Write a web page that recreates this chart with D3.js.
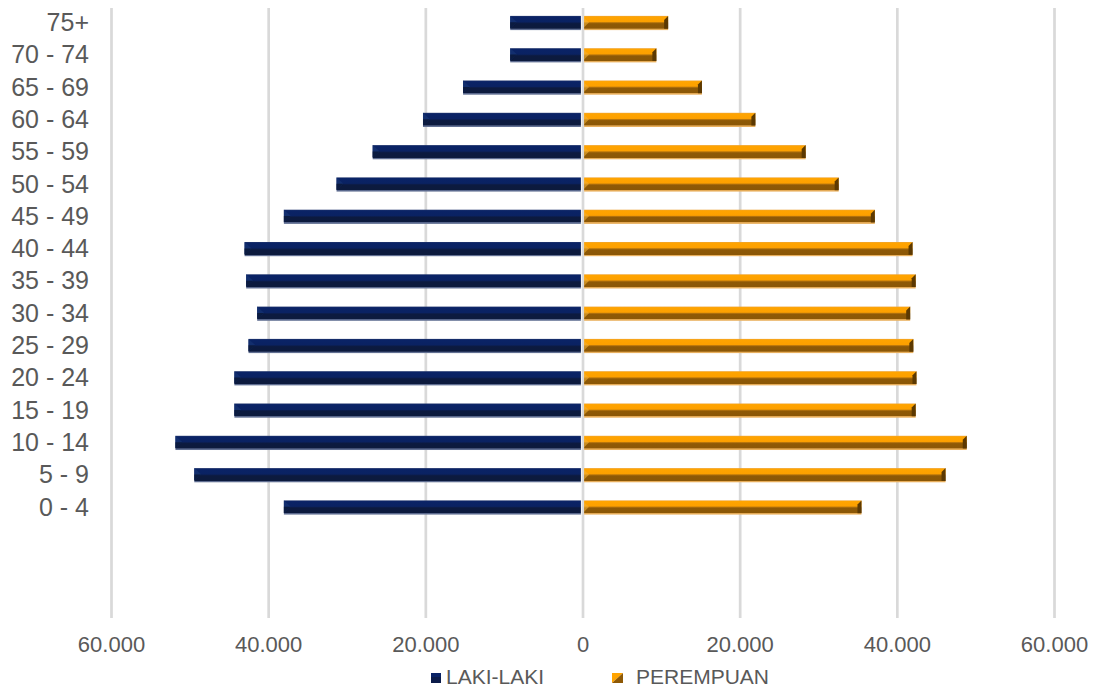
<!DOCTYPE html>
<html>
<head>
<meta charset="utf-8">
<script src="https://cdn.jsdelivr.net/npm/d3@7/dist/d3.min.js"></script>
<style>
  html, body { margin: 0; padding: 0; background: #ffffff; }
  svg { display: block; font-family: "Liberation Sans", Arial, sans-serif; }
</style>
</head>
<body>
<svg id="chart" width="1099" height="697"></svg>
<script>
// ---- data ----
const categories = ["75+","70 - 74","65 - 69","60 - 64","55 - 59","50 - 54","45 - 49","40 - 44",
                    "35 - 39","30 - 34","25 - 29","20 - 24","15 - 19","10 - 14","5 - 9","0 - 4"];
const lakiLaki   = [9200, 9200, 15200, 20300, 26700, 31300, 38000, 43000,
                    42800, 41400, 42500, 44300, 44300, 51800, 49400, 38000];
const perempuan  = [10900, 9400, 15200, 22000, 28400, 32600, 37200, 42000,
                    42400, 41700, 42100, 42500, 42400, 48900, 46200, 35500];
const xTicks     = [-60000, -40000, -20000, 0, 20000, 40000, 60000];
const seriesNames = ["LAKI-LAKI", "PEREMPUAN"];

// ---- setup ----
const svg = d3.select("#chart");
const W = 1099, H = 697;
svg.append("rect").attr("width", W).attr("height", H).attr("fill", "#ffffff");

const plotTop = 8, plotBottom = 618;
const x = d3.scaleLinear().domain([-60000, 60000]).range([111, 1054]);
const step = 32.3;
const y = d3.scaleBand().domain(categories)
  .range([23 - step / 2, 23 - step / 2 + step * categories.length])
  .paddingInner(0.56).paddingOuter(0.28);

const defs = svg.append("defs");
function grad(id, stops) {
  const g = defs.append("linearGradient").attr("id", id)
    .attr("x1", 0).attr("y1", 0).attr("x2", 0).attr("y2", 1);
  stops.forEach(s => g.append("stop").attr("offset", s[0]).attr("stop-color", s[1]));
}
grad("gNavy", [[0, "#24386e"], [0.08, "#0a2366"], [0.42, "#0a2262"], [0.5, "#0c1c48"],
               [0.55, "#0c1a3f"], [0.88, "#0c1a3d"], [0.9, "#56648a"], [1, "#6a7898"]]);
grad("gOrange", [[0, "#eda53a"], [0.08, "#ffa400"], [0.4, "#fda000"], [0.48, "#b0700c"],
                 [0.55, "#8e5906"], [0.88, "#8b5706"], [0.9, "#e2a752"], [1, "#ebb566"]]);

// ---- gridlines ----
const grid = svg.append("g").attr("transform", `translate(0,${plotBottom})`)
  .call(d3.axisBottom(x).tickValues(xTicks).tickSize(-(plotBottom - plotTop)).tickFormat(""));
grid.select(".domain").remove();
grid.selectAll("line").attr("stroke", "#d9d9d9").attr("stroke-width", 2.7);

// ---- bars ----
const gap = 1.6;
const bw = y.bandwidth();

const data = categories.map((c, i) => ({ cat: c, m: lakiLaki[i], f: perempuan[i] }));

// LAKI-LAKI (left)
const gm = svg.append("g");
data.forEach(d => {
  const x0 = x(-d.m), x1 = x(0) - gap, y0 = y(d.cat);
  gm.append("rect").attr("x", x0).attr("y", y0).attr("width", x1 - x0).attr("height", bw)
    .attr("fill", "url(#gNavy)");
  // bevel at outer (left) end
  gm.append("polygon")
    .attr("points", `${x0},${y0} ${x0 + 7},${y0 + bw * 0.45} ${x0},${y0 + bw * 0.88}`)
    .attr("fill", "#13306f").attr("opacity", 0.9);
  gm.append("polygon")
    .attr("points", `${x0},${y0 + bw * 0.45} ${x0 + 7},${y0 + bw * 0.45} ${x0},${y0 + bw * 0.88}`)
    .attr("fill", "#0a1736").attr("opacity", 0.8);
});

// PEREMPUAN (right)
const gf = svg.append("g");
data.forEach(d => {
  const x0 = x(0) + gap, x1 = x(d.f), y0 = y(d.cat);
  gf.append("rect").attr("x", x0).attr("y", y0).attr("width", x1 - x0).attr("height", bw)
    .attr("fill", "url(#gOrange)");
  // dark bevel at outer (right) end
  gf.append("polygon")
    .attr("points", `${x1 - 4},${y0 + 4} ${x1},${y0} ${x1},${y0 + bw * 0.9} ${x1 - 4},${y0 + bw * 0.9}`)
    .attr("fill", "#5c3902");
  // light bevel at inner end
  gf.append("polygon")
    .attr("points", `${x0},${y0 + 2} ${x0 + 5},${y0 + bw * 0.45} ${x0},${y0 + bw * 0.8}`)
    .attr("fill", "#f3b136").attr("opacity", 0.6);
});

// ---- axes labels ----
const loc = d3.formatLocale({ decimal: ",", thousands: ".", grouping: [3], currency: ["", ""] });
const fmt = loc.format(",");
const xAxis = svg.append("g").attr("transform", `translate(0,${plotBottom})`)
  .call(d3.axisBottom(x).tickValues(xTicks).tickSize(0).tickPadding(18.5)
    .tickFormat(d => fmt(Math.abs(d))));
xAxis.select(".domain").remove();
xAxis.selectAll("text").attr("font-size", 22).attr("fill", "#595959")
  .attr("font-family", "'Liberation Sans', Arial, sans-serif");

const yAxis = svg.append("g").attr("transform", "translate(89,0)")
  .call(d3.axisLeft(y).tickSize(0).tickPadding(0));
yAxis.select(".domain").remove();
yAxis.selectAll("text").attr("font-size", 25).attr("fill", "#595959")
  .attr("font-family", "'Liberation Sans', Arial, sans-serif");

// ---- legend ----
const legend = svg.append("g").attr("font-size", 21).attr("fill", "#595959");
// LAKI-LAKI
legend.append("rect").attr("x", 431).attr("y", 673).attr("width", 10).attr("height", 10)
  .attr("fill", "#0c1c4a");
legend.append("rect").attr("x", 431).attr("y", 673).attr("width", 10).attr("height", 4)
  .attr("fill", "#0a2366");
legend.append("text").attr("x", 446).attr("y", 683.5).text(seriesNames[0]);
// PEREMPUAN
legend.append("polygon").attr("points", "612,673 623,673 612,683").attr("fill", "#ffa400");
legend.append("polygon").attr("points", "623,673 623,683 612,683").attr("fill", "#8e5906");
legend.append("text").attr("x", 636).attr("y", 683.5).text(seriesNames[1]);
</script>
</body>
</html>
